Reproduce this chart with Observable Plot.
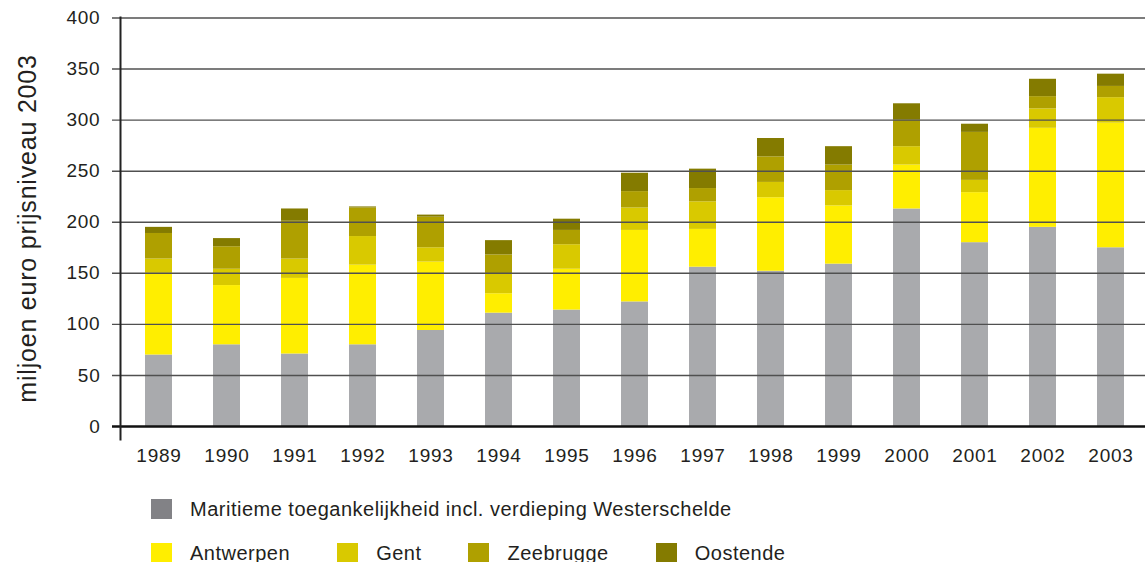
<!DOCTYPE html>
<html>
<head>
<meta charset="utf-8">
<script src="https://cdn.jsdelivr.net/npm/d3@7"></script>
<script src="https://cdn.jsdelivr.net/npm/@observablehq/plot@0.6"></script>
<style>
  html, body { margin: 0; padding: 0; background: #fff; overflow: hidden; }
  #chart svg text { letter-spacing: 0.8px; }
  .legend { font-family: "Liberation Sans", Arial, sans-serif; font-size: 20px; letter-spacing: 0.5px; color: #231f20; }
  .legend .row { display: flex; align-items: center; height: 20px; padding-left: 151px; }
  .legend .row1 { margin-top: 19px; }
  .legend .row2 { margin-top: 24px; }
  .legend .item { display: flex; align-items: center; margin-right: 47px; }
  .legend .sw { width: 21px; height: 20px; margin-right: 18px; flex: none; }
</style>
</head>
<body>
<div id="chart"></div>
<div class="legend" id="legend"></div>
<script>
const years = ["1989","1990","1991","1992","1993","1994","1995","1996","1997","1998","1999","2000","2001","2002","2003"];
const seriesNames = ["Maritieme toegankelijkheid incl. verdieping Westerschelde", "Antwerpen", "Gent", "Zeebrugge", "Oostende"];
const maritiem  = [70, 80, 71, 80, 94, 111, 114, 122, 156, 152, 159, 213, 180, 195, 175];
const antwerpen = [80, 58, 74, 78, 67, 19, 40, 70, 37, 72, 57, 43, 49, 97, 122];
const gent      = [14, 16, 19, 28, 14, 19, 24, 22, 27, 15, 15, 18, 12, 19, 25];
const zeebrugge = [25, 22, 37, 28, 30, 19, 14, 16, 13, 25, 25, 26, 47, 12, 11];
const oostende  = [6, 8, 12, 1, 2, 14, 11, 18, 19, 18, 18, 16, 8, 17, 12];
const barColors = ["#a9aaad", "#ffee00", "#d9c900", "#afa000", "#847b00"];
const legendColors = ["#828286", "#ffee00", "#d9c900", "#afa000", "#847b00"];
const yTicks = [0, 50, 100, 150, 200, 250, 300, 350, 400];
const gridTicks = [50, 100, 150, 200, 250, 300, 350, 400];
const yLabel = "miljoen euro prijsniveau 2003";

const seriesValues = [maritiem, antwerpen, gent, zeebrugge, oostende];
const rows = [];
seriesNames.forEach((s, si) => {
  years.forEach((y, i) => rows.push({year: y, series: s, value: seriesValues[si][i]}));
});

const font = "'Liberation Sans', Arial, Helvetica, sans-serif";

const chart = Plot.plot({
  width: 1145,
  height: 480,
  marginTop: 17,
  marginBottom: 41,
  marginLeft: 120,
  marginRight: 0,
  style: {fontFamily: font, color: "#231f20", background: "white", overflow: "visible"},
  x: {type: "band", domain: years, paddingInner: 0.6, paddingOuter: 0.3, align: 0.5, insetLeft: 2.5, insetRight: -2.5, axis: null},
  y: {domain: [0, 400], insetTop: 0.5, insetBottom: 13, axis: null},
  color: {domain: seriesNames, range: barColors},
  marks: [
    Plot.barY(rows, {x: "year", y: "value", fill: "series", order: seriesNames}),
    Plot.ruleY(gridTicks, {stroke: "#505050", strokeWidth: 1.4, insetLeft: -8}),
    Plot.ruleY([0], {stroke: "#111", strokeWidth: 2.5, insetLeft: -8}),
    Plot.frame({anchor: "left", stroke: "#222", strokeWidth: 2}),
    Plot.axisY({ticks: yTicks, tickSize: 0, tickPadding: 20, fontSize: 19, label: null}),
    Plot.axisX({tickSize: 0, tickPadding: 9, fontSize: 19, label: null}),
    Plot.text([yLabel], {text: d => d, frameAnchor: "left", textAnchor: "middle", rotate: -90, dx: -93, fontSize: 25, lineAnchor: "middle", fill: "#231f20"})
  ]
});
document.getElementById("chart").appendChild(chart);

const legend = document.getElementById("legend");
const legendRows = [[0], [1, 2, 3, 4]];
legendRows.forEach((idxs, r) => {
  const row = document.createElement("div");
  row.className = "row row" + (r + 1);
  idxs.forEach(i => {
    const item = document.createElement("div");
    item.className = "item";
    const sw = document.createElement("span");
    sw.className = "sw";
    sw.style.background = legendColors[i];
    const t = document.createElement("span");
    t.textContent = seriesNames[i];
    item.appendChild(sw);
    item.appendChild(t);
    row.appendChild(item);
  });
  legend.appendChild(row);
});
</script>
</body>
</html>
